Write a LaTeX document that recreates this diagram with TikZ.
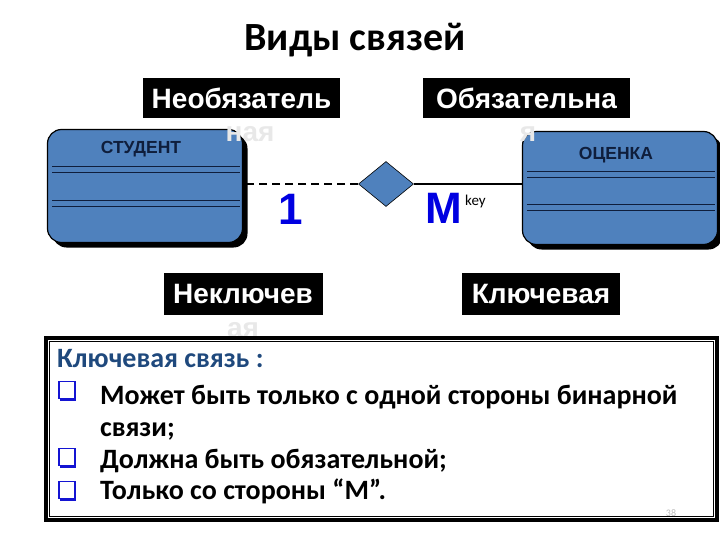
\documentclass[tikz,border=0pt]{standalone}
\usepackage{fontspec}
\setmainfont{Carlito}
\newfontfamily\arialf{Liberation Sans}
\usetikzlibrary{shapes.geometric,shadows}
\definecolor{entblue}{HTML}{4F81BD}
\definecolor{navyt}{HTML}{0F1E3C}
\definecolor{keyblue}{HTML}{1F497D}
\definecolor{numblue}{RGB}{0,0,225}
\definecolor{paleg}{RGB}{232,232,232}
\definecolor{bulblue}{RGB}{20,20,210}
\tikzset{
  blacklabel/.style={fill=black, text=white, inner sep=0pt, font=\arialf\bfseries\fontsize{28}{32}\selectfont},
  overflow/.style={text=paleg, inner sep=0pt, font=\arialf\bfseries\fontsize{28}{32}\selectfont},
  entity/.style={rectangle, rounded corners=14pt, fill=entblue, draw=black, line width=1.2pt,
    minimum width=195pt, minimum height=113pt, inner sep=0pt,
    drop shadow={shadow xshift=5pt, shadow yshift=-5pt, opacity=1, fill=black}},
  enttitle/.style={text=navyt, inner sep=0pt, font=\arialf\bfseries\fontsize{17.5}{20}\selectfont},
  entline/.style={line width=1pt, draw=navyt},
  relbox/.style={diamond, fill=entblue, draw=black, line width=0.6pt, minimum width=55pt, minimum height=45pt, inner sep=0pt},
  card/.style={text=numblue, inner sep=0pt, font=\arialf\bfseries\fontsize{44}{44}\selectfont},
  bodytext/.style={anchor=base west, inner sep=0pt, font=\bfseries\fontsize{28}{32}\selectfont},
  bulletbox/.style={draw=bulblue, fill=white, line width=1.2pt, minimum width=16pt, minimum height=17pt, inner sep=0pt,
    drop shadow={shadow xshift=0.8pt, shadow yshift=-2.2pt, opacity=1, fill=bulblue}},
}
\begin{document}
\begin{tikzpicture}[x=1pt,y=-1pt]
\useasboundingbox (0,0) rectangle (720,540);

\node[font=\bfseries\fontsize{40}{44}\selectfont, inner sep=0pt] (title) at (355,40) {Виды связей};

% entities
\node[entity] (stud) at (145,186) {};
\node[enttitle] (studt) at (141,149) {СТУДЕНТ};
\draw[entline] (52,167) -- (240,167) (52,173) -- (240,173);
\draw[entline] (52,201) -- (240,201) (52,207) -- (240,207);

\node[entity] (ocen) at (620,188) {};
\node[enttitle] (ocent) at (616,155) {ОЦЕНКА};
\draw[entline] (527,172) -- (715,172) (527,178) -- (715,178);
\draw[entline] (527,205) -- (715,205) (527,211) -- (715,211);

% relationship
\node[relbox] (rel) at (386,184) {};
\draw[line width=1.3pt, dash pattern=on 8pt off 5pt] (rel.west) -- (rel.west -| stud.east);
\draw[line width=1.3pt] (rel.east) -- (rel.east -| ocen.west);

\node[card] (one) at (291,209) {1};
\node[card] (many) at (444,208) {M};
\node[inner sep=0pt, font=\fontsize{15}{17}\selectfont, anchor=base west] (key) at (465,206) {key};

% black labels
\node[blacklabel, minimum width=197pt, minimum height=40pt] (opt) at (241.5,98) {Необязатель};
\node[overflow] (optb) at (250,134) {ная};
\node[blacklabel, minimum width=207pt, minimum height=40pt] (mand) at (526.5,98) {Обязательна};
\node[overflow] (mandb) at (528,134) {я};
\node[blacklabel, minimum width=159pt, minimum height=42pt] (nonkey) at (243,294) {Неключев};
\node[overflow] (nonkeyb) at (243,330) {ая};
\node[blacklabel, minimum width=158pt, minimum height=42pt] (iskey) at (541,294) {Ключевая};

% bottom box
\draw[line width=3.5pt] (46,338) rectangle (717,520);
\draw[line width=1pt] (49.8,341.8) rectangle (713.2,516.2);

\node[bodytext, text=keyblue] (h) at (57,367) {Ключевая связь :};
\node[bulletbox] (b1) at (67,390) {};
\node[bodytext] (t1) at (100,404) {Может быть только с одной стороны бинарной};
\node[bodytext] (t1b) at (100,436) {связи;};
\node[bulletbox] (b2) at (67,457) {};
\node[bodytext] (t2) at (100,468) {Должна быть обязательной;};
\node[bulletbox] (b3) at (67,490) {};
\node[bodytext] (t3) at (100,499) {Только со стороны “М”.};

\node[text=gray!55, inner sep=0pt, font=\fontsize{10}{12}\selectfont] (pg) at (671,513) {38};
\end{tikzpicture}
\end{document}
